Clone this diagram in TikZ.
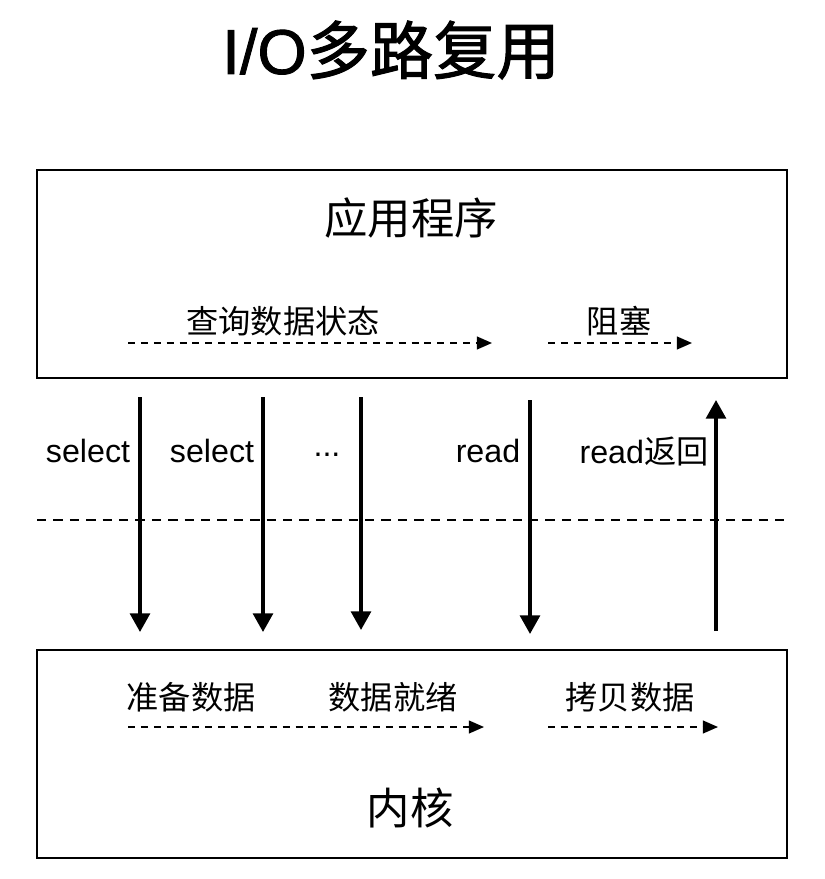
\documentclass[tikz,border=0pt]{standalone}
\usepackage{fontspec}
\setmainfont{Liberation Sans}
\newfontfamily\cjk{Noto Sans CJK SC}
\newfontfamily\cjktitle[FakeBold=1.6]{Noto Sans CJK SC}
\newfontfamily\latintitle[FakeBold=1.4]{Liberation Sans}
\usepackage{tikz}
\usetikzlibrary{arrows.meta,positioning}

\begin{document}
\begin{tikzpicture}[
  x=0.03cm, y=-0.03cm,
  layer/.style={draw, line width=2.4pt, minimum width=22.5cm, minimum height=6.24cm, inner sep=0pt},
  lbl/.style={inner sep=0pt, font=\fontsize{27.5}{32}\selectfont},
  big/.style={inner sep=0pt, font=\fontsize{37}{42}\selectfont\cjk},
  call/.style={-{Triangle[width=17pt,length=16pt]}, line width=3pt},
  flow/.style={-{Triangle[width=11pt,length=13pt]}, line width=1.5pt, dash pattern=on 6pt off 5pt}
]
\useasboundingbox (0,0) rectangle (825,879);

% title
\node[inner sep=0pt, font=\fontsize{54}{62}\selectfont] (title) at (391,50) {{\latintitle I/O}\cjktitle 多路复用};

% user space and kernel
\node[layer] (app) at (412,274) {};
\node[layer] (kernel) at (412,754) {};
\node[big] (appname) at (411,218) {应用程序};
\node[big] (kernelname) at (410,808) {内核};

% boundary
\coordinate (sepL) at (37,520);
\coordinate (sepR) at (787,520);
\draw[line width=1.6pt, dash pattern=on 8pt off 6pt] (sepL) -- (sepR);

% inside the application box
\node[lbl] (query) at (283,321) {\cjk 查询数据状态};
\node[lbl] (block) at (619,321) {\cjk 阻塞};
\coordinate (q1) at (128,343);
\coordinate (q2) at (492,343);
\coordinate (b1) at (548,343);
\coordinate (b2) at (692,343);
\draw[flow] (q1) -- (q2);
\draw[flow] (b1) -- (b2);

% inside the kernel box
\node[lbl] (prep) at (191,697) {\cjk 准备数据};
\node[lbl] (ready) at (393,697) {\cjk 数据就绪};
\node[lbl] (copy) at (630,697) {\cjk 拷贝数据};
\coordinate (p1) at (128,727);
\coordinate (p2) at (484,727);
\coordinate (c1) at (548,727);
\coordinate (c2) at (718,727);
\draw[flow] (p1) -- (p2);
\draw[flow] (c1) -- (c2);

% calls
\node[lbl] (sel1) at (88,451) {select};
\node[lbl] (sel2) at (212,451) {select};
\node[lbl] (dots) at (327,455) {...};
\node[lbl] (rd) at (488,451) {read};
\node[lbl] (rdret) at (644,451) {read{\cjk 返回}};

\coordinate (s1a) at (140,397); \coordinate (s1b) at (140,632);
\coordinate (s2a) at (263,397); \coordinate (s2b) at (263,632);
\coordinate (s3a) at (361,397); \coordinate (s3b) at (361,630);
\coordinate (r1a) at (530,400); \coordinate (r1b) at (530,634);
\coordinate (r2a) at (716,631); \coordinate (r2b) at (716,400);
\draw[call] (s1a) -- (s1b);
\draw[call] (s2a) -- (s2b);
\draw[call] (s3a) -- (s3b);
\draw[call] (r1a) -- (r1b);
\draw[call] (r2a) -- (r2b);
\end{tikzpicture}
\end{document}
